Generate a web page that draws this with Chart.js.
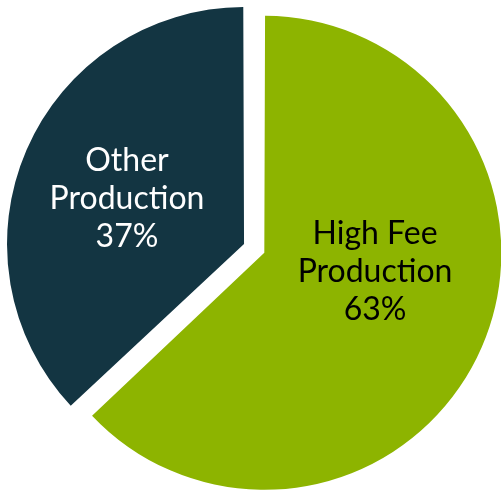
<!DOCTYPE html>
<html>
<head>
<meta charset="utf-8">
<script src="https://cdn.jsdelivr.net/npm/chart.js@4"></script>
<style>
  html, body { margin: 0; padding: 0; background: #fff; }
  canvas { display: block; }
</style>
</head>
<body>
<canvas id="pieChart" width="501" height="491"></canvas>
<script>
// data
const kategori = [['High Fee', 'Production'], ['Other', 'Production']];
const persen = [63, 37];
const warnaIrisan = ['#8db400', '#133542'];
const warnaLabel = ['#000000', '#ffffff'];

// offset per irisan; irisan kecil digeser lebih jauh supaya jari-jarinya sama
const geserIrisan = [18.8, 69.6];

// label di dalam irisan: geser sudut (derajat) dan jarak dari pusat (fraksi jari-jari)
const geserSudut = [-13.7, -2.1];
const jarakLabel = [0.474, 0.53];

const labelIrisan = {
    id: 'labelIrisan',
    afterDatasetsDraw(chart) {
        const ctx = chart.ctx;
        const meta = chart.getDatasetMeta(0);
        meta.data.forEach(function(arc, i) {
            const p = arc.getProps(['x', 'y', 'startAngle', 'endAngle', 'outerRadius', 'circumference'], true);
            const half = (p.startAngle + p.endAngle) / 2;
            // ArcElement menggeser irisan sejauh offset / 4 dan menambah jari-jarinya
            const off = (arc.options.offset || 0) / 4;
            const fix = 1 - Math.sin(Math.min(Math.PI, p.circumference || 0));
            const jari = p.outerRadius + off * fix;
            const a = half + geserSudut[i] * Math.PI / 180;
            const r = jari * jarakLabel[i];
            const cx = p.x + Math.cos(half) * off + Math.cos(a) * r;
            const cy = p.y + Math.sin(half) * off + Math.sin(a) * r;

            const baris = kategori[i].concat([persen[i] + '%']);
            const tinggiBaris = 38;
            ctx.save();
            ctx.font = '32px Lato';
            ctx.fillStyle = warnaLabel[i];
            ctx.textAlign = 'center';
            ctx.textBaseline = 'middle';
            baris.forEach(function(teks, j) {
                ctx.fillText(teks, cx, cy + (j - (baris.length - 1) / 2) * tinggiBaris);
            });
            ctx.restore();
        });
    }
};

new Chart(document.getElementById('pieChart'), {
    type: 'pie',
    data: {
        labels: kategori.map(function(k) { return k.join(' '); }),
        datasets: [{
            data: persen,
            backgroundColor: warnaIrisan,
            borderWidth: 0,
            offset: geserIrisan,
            radius: 232.3,
            clip: false
        }]
    },
    options: {
        responsive: false,
        animation: false,
        layout: { padding: { left: 19, top: 11, right: 0, bottom: 0 } },
        plugins: {
            legend: { display: false },
            tooltip: { enabled: false }
        }
    },
    plugins: [labelIrisan]
});
</script>
</body>
</html>
